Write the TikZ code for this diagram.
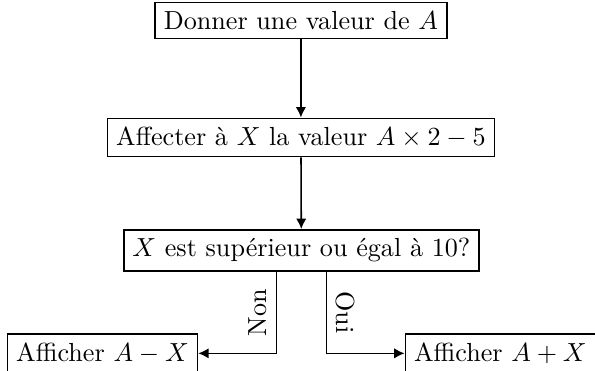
\documentclass[tikz,border=0pt]{standalone}
\usetikzlibrary{arrows.meta}
\begin{document}
\begin{tikzpicture}[
  line width=0.6pt,
  boite/.style={draw, rectangle, inner sep=3.33pt},
  fleche/.style={-{Latex[length=4pt,width=4pt]}},
  etiq/.style={inner sep=3.33pt}
]
\useasboundingbox (0,0) rectangle (8,-4.987);
\node[boite] (a) at (4.046,-0.276) {Donner une valeur de $A$};
\node[boite] (b) at (4.046,-1.848) {Affecter à $X$ la valeur $A\times 2-5$};
\node[boite] (c) at (4.052,-3.367) {$X$ est supérieur ou égal à 10?};
\node[boite] (g) at (1.378,-4.751) {Afficher $A-X$};
\node[boite] (d) at (6.727,-4.751) {Afficher $A+X$};
\coordinate (cn) at ([xshift=-0.336cm]c.south);
\coordinate (co) at ([xshift=0.336cm]c.south);
\draw[fleche] (a) -- (b);
\draw[fleche] (b) -- (c);
\draw[fleche] (cn) |- node[etiq, pos=0.25, rotate=90, anchor=south] {Non} (g.east);
\draw[fleche] (co) |- node[etiq, pos=0.25, rotate=-90, anchor=south] {Oui} (d.west);
\end{tikzpicture}
\end{document}
